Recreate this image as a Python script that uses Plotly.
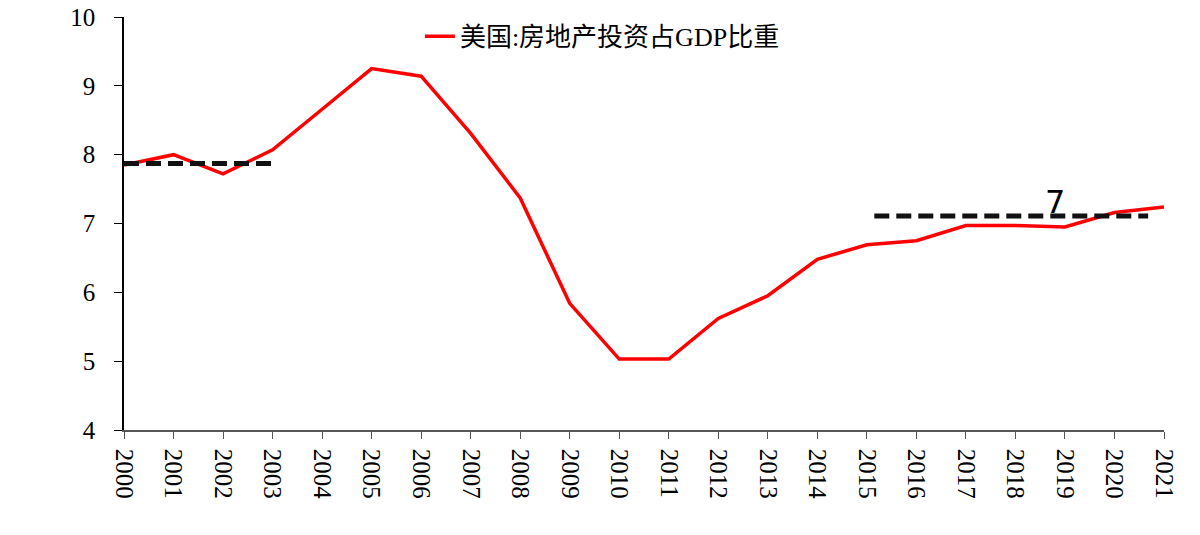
import plotly.graph_objects as go

years = list(range(2000, 2022))
share = [7.85, 8.00, 7.72, 8.07, 8.66, 9.25, 9.14, 8.31, 7.37, 5.84, 5.03,
         5.03, 5.62, 5.95, 6.48, 6.69, 6.75, 6.97, 6.97, 6.95, 7.16, 7.24]

# reference levels (dashed)
early_x = [2000, 2003]
early_y = [7.87, 7.87]
late_x = [2015.15, 2020.68]
late_y = [7.11, 7.11]

serif = "Liberation Serif, Times New Roman, Noto Sans CJK SC"

fig = go.Figure()
fig.add_trace(go.Scatter(x=years, y=share, mode="lines", name="美国:房地产投资占GDP比重",
                         line=dict(color="#ff0000", width=3.5)))
fig.add_trace(go.Scatter(x=early_x, y=early_y, mode="lines", showlegend=False,
                         line=dict(color="#111111", width=5, dash="15px,7px"), cliponaxis=False))
fig.add_trace(go.Scatter(x=late_x, y=late_y, mode="lines", showlegend=False,
                         line=dict(color="#111111", width=5, dash="15px,7px")))

fig.add_annotation(x=2018.8, y=7.31, text="7", showarrow=False,
                   font=dict(family="DejaVu Sans, Liberation Sans", size=32, color="black"))

fig.update_layout(
    width=1200, height=535,
    margin=dict(l=124, r=36, t=17, b=105),
    paper_bgcolor="white", plot_bgcolor="white",
    font=dict(family=serif, size=25, color="black"),
    showlegend=True,
    legend=dict(orientation="h", x=0.46, xanchor="center", y=1.01, yanchor="top",
                font=dict(family=serif, size=26), bgcolor="rgba(0,0,0,0)"),
    xaxis=dict(range=[2000, 2021], tickmode="array", tickvals=years,
               ticktext=[str(y) for y in years], tickangle=90, automargin=False,
               showline=True, linecolor="#555555", linewidth=1.5,
               ticks="outside", ticklen=7, tickcolor="#555555", ticklabelstandoff=5,
               showgrid=False, zeroline=False),
    yaxis=dict(range=[4, 10], dtick=1, automargin=False,
               showline=True, linecolor="black", linewidth=1.5,
               ticks="outside", ticklen=8, tickcolor="black", ticklabelstandoff=14,
               showgrid=False, zeroline=False),
)

# drop the default page margin so the figure sits at the window corner
fig.write_html("out.html", config={"displayModeBar": False},
               post_script="document.body.style.margin = '0';")
